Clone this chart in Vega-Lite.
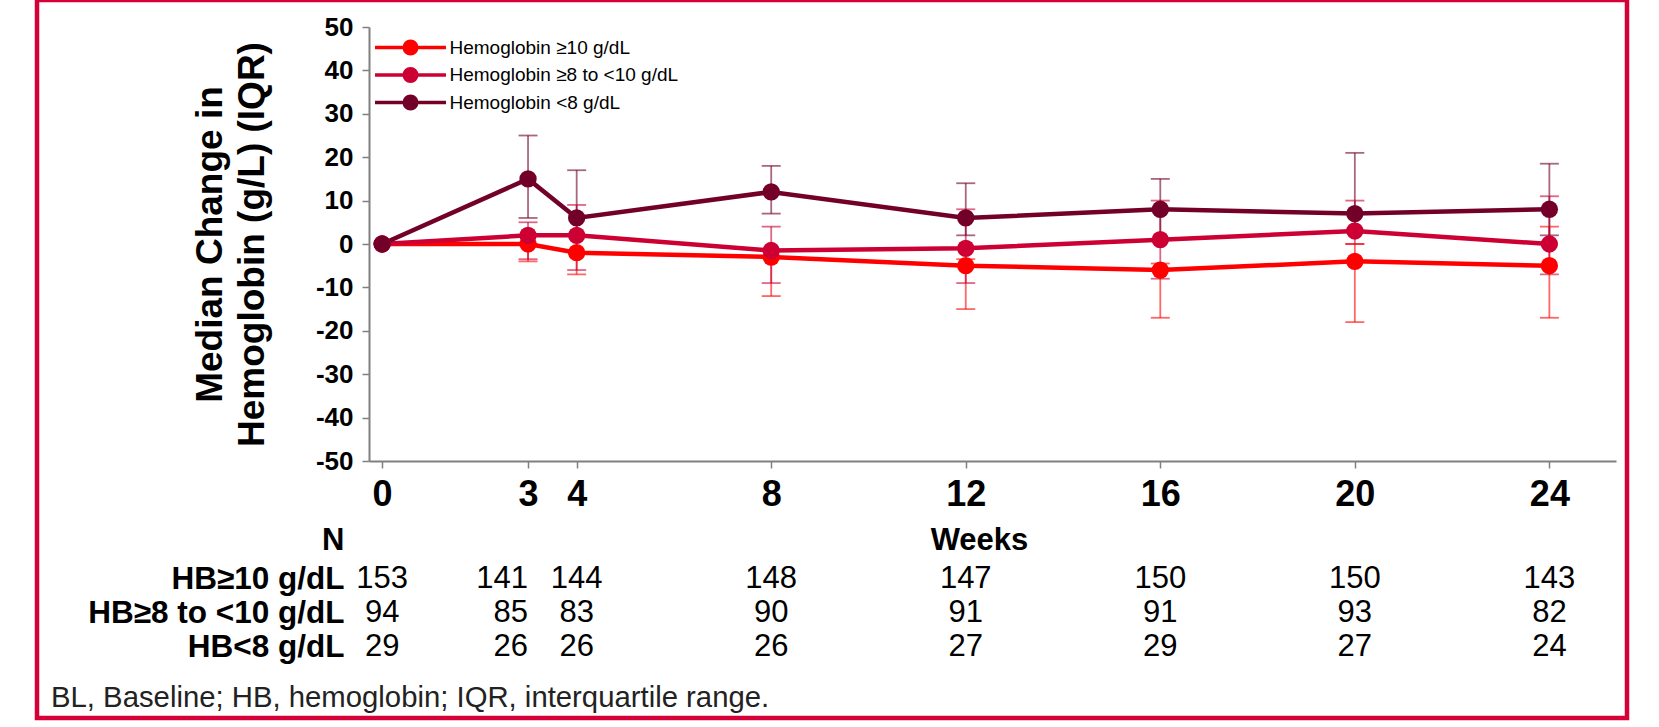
{
  "$schema": "https://vega.github.io/schema/vega-lite/v6.json",
  "width": 1590,
  "height": 718,
  "padding": {"left": 37, "top": 0, "right": 32, "bottom": 9},
  "background": "white",
  "config": {
    "font": "Liberation Sans",
    "view": {"stroke": "#D50038", "strokeWidth": 4.5}
  },
  "title": {
    "text": "BL, Baseline; HB, hemoglobin; IQR, interquartile range.",
    "orient": "bottom",
    "anchor": "start",
    "frame": "group",
    "offset": -20,
    "baseline": "middle",
    "dx": 14,
    "fontSize": 29.3,
    "fontWeight": "normal",
    "color": "#222222"
  },
  "datasets": {
    "series": [
      {"group": "Hemoglobin ≥10 g/dL", "week": 0, "median": 0, "q1": null, "q3": null},
      {"group": "Hemoglobin ≥10 g/dL", "week": 3, "median": 0, "q1": -4, "q3": 0},
      {"group": "Hemoglobin ≥10 g/dL", "week": 4, "median": -2, "q1": -7, "q3": 2},
      {"group": "Hemoglobin ≥10 g/dL", "week": 8, "median": -3, "q1": -12, "q3": -1.5},
      {"group": "Hemoglobin ≥10 g/dL", "week": 12, "median": -5, "q1": -15, "q3": -3.5},
      {"group": "Hemoglobin ≥10 g/dL", "week": 16, "median": -6, "q1": -17, "q3": -4.5},
      {"group": "Hemoglobin ≥10 g/dL", "week": 20, "median": -4, "q1": -18, "q3": 0},
      {"group": "Hemoglobin ≥10 g/dL", "week": 24, "median": -5, "q1": -17, "q3": 4},
      {"group": "Hemoglobin ≥8 to <10 g/dL", "week": 0, "median": 0, "q1": null, "q3": null},
      {"group": "Hemoglobin ≥8 to <10 g/dL", "week": 3, "median": 2, "q1": -3.5, "q3": 5},
      {"group": "Hemoglobin ≥8 to <10 g/dL", "week": 4, "median": 2, "q1": -6, "q3": 9},
      {"group": "Hemoglobin ≥8 to <10 g/dL", "week": 8, "median": -1.5, "q1": -9, "q3": 4},
      {"group": "Hemoglobin ≥8 to <10 g/dL", "week": 12, "median": -1, "q1": -9, "q3": 8},
      {"group": "Hemoglobin ≥8 to <10 g/dL", "week": 16, "median": 1, "q1": -8, "q3": 10},
      {"group": "Hemoglobin ≥8 to <10 g/dL", "week": 20, "median": 3, "q1": 0, "q3": 10},
      {"group": "Hemoglobin ≥8 to <10 g/dL", "week": 24, "median": 0, "q1": -7, "q3": 11},
      {"group": "Hemoglobin <8 g/dL", "week": 0, "median": 0, "q1": null, "q3": null},
      {"group": "Hemoglobin <8 g/dL", "week": 3, "median": 15, "q1": 6, "q3": 25},
      {"group": "Hemoglobin <8 g/dL", "week": 4, "median": 6, "q1": 2, "q3": 17},
      {"group": "Hemoglobin <8 g/dL", "week": 8, "median": 12, "q1": 7, "q3": 18},
      {"group": "Hemoglobin <8 g/dL", "week": 12, "median": 6, "q1": 2, "q3": 14},
      {"group": "Hemoglobin <8 g/dL", "week": 16, "median": 8, "q1": 1, "q3": 15},
      {"group": "Hemoglobin <8 g/dL", "week": 20, "median": 7, "q1": 3, "q3": 21},
      {"group": "Hemoglobin <8 g/dL", "week": 24, "median": 8, "q1": 2, "q3": 18.5}
    ],
    "counts": [
      {"row": "HB≥10 g/dL", "week": 0, "n": 153},
      {"row": "HB≥10 g/dL", "week": 3, "n": 141},
      {"row": "HB≥10 g/dL", "week": 4, "n": 144},
      {"row": "HB≥10 g/dL", "week": 8, "n": 148},
      {"row": "HB≥10 g/dL", "week": 12, "n": 147},
      {"row": "HB≥10 g/dL", "week": 16, "n": 150},
      {"row": "HB≥10 g/dL", "week": 20, "n": 150},
      {"row": "HB≥10 g/dL", "week": 24, "n": 143},
      {"row": "HB≥8 to <10 g/dL", "week": 0, "n": 94},
      {"row": "HB≥8 to <10 g/dL", "week": 3, "n": 85},
      {"row": "HB≥8 to <10 g/dL", "week": 4, "n": 83},
      {"row": "HB≥8 to <10 g/dL", "week": 8, "n": 90},
      {"row": "HB≥8 to <10 g/dL", "week": 12, "n": 91},
      {"row": "HB≥8 to <10 g/dL", "week": 16, "n": 91},
      {"row": "HB≥8 to <10 g/dL", "week": 20, "n": 93},
      {"row": "HB≥8 to <10 g/dL", "week": 24, "n": 82},
      {"row": "HB<8 g/dL", "week": 0, "n": 29},
      {"row": "HB<8 g/dL", "week": 3, "n": 26},
      {"row": "HB<8 g/dL", "week": 4, "n": 26},
      {"row": "HB<8 g/dL", "week": 8, "n": 26},
      {"row": "HB<8 g/dL", "week": 12, "n": 27},
      {"row": "HB<8 g/dL", "week": 16, "n": 29},
      {"row": "HB<8 g/dL", "week": 20, "n": 27},
      {"row": "HB<8 g/dL", "week": 24, "n": 24}
    ]
  },
  "layer": [
    {
      "data": {"name": "series"},
      "layer": [
        {
          "transform": [{"filter": "isValid(datum.q1)"}],
          "mark": {"type": "rule", "strokeWidth": 1.8, "opacity": 0.6},
          "encoding": {
            "x": {"field": "week", "type": "quantitative"},
            "y": {"field": "q1", "type": "quantitative"},
            "y2": {"field": "q3"},
            "color": {"field": "group", "type": "nominal"}
          }
        },
        {
          "transform": [{"filter": "isValid(datum.q1)"}],
          "mark": {"type": "tick", "orient": "horizontal", "size": 19, "thickness": 1.8, "opacity": 0.6},
          "encoding": {
            "x": {"field": "week", "type": "quantitative"},
            "y": {"field": "q1", "type": "quantitative"},
            "color": {"field": "group", "type": "nominal"}
          }
        },
        {
          "transform": [{"filter": "isValid(datum.q3)"}],
          "mark": {"type": "tick", "orient": "horizontal", "size": 19, "thickness": 1.8, "opacity": 0.6},
          "encoding": {
            "x": {"field": "week", "type": "quantitative"},
            "y": {"field": "q3", "type": "quantitative"},
            "color": {"field": "group", "type": "nominal"}
          }
        },
        {
          "mark": {"type": "line", "strokeWidth": 4.5},
          "encoding": {
            "x": {
              "field": "week", "type": "quantitative",
              "scale": {"domain": [-0.27, 25.37], "range": [332, 1579], "nice": false, "zero": false},
              "axis": {
                "values": [0, 3, 4, 8, 12, 16, 20, 24],
                "labelExpr": "toString(datum.value)",
                "offset": -257,
                "grid": false,
                "domainColor": "#808080", "domainWidth": 2,
                "tickColor": "#808080", "tickWidth": 1.5, "tickSize": 7,
                "labelFontSize": 36, "labelFontWeight": "bold", "labelColor": "black",
                "labelBaseline": "middle", "labelPadding": 26,
                "labelFlush": false, "labelOverlap": false,
                "title": "Weeks",
                "titleFontSize": 31, "titleFontWeight": "bold", "titleColor": "black",
                "titleX": 942, "titleY": 79, "titleBaseline": "middle", "titleAlign": "center"
              }
            },
            "y": {
              "field": "median", "type": "quantitative",
              "scale": {"domain": [-50, 50], "range": [461, 27], "nice": false},
              "axis": {
                "values": [-50, -40, -30, -20, -10, 0, 10, 20, 30, 40, 50],
                "labelExpr": "toString(datum.value)",
                "offset": -332,
                "grid": false,
                "domainColor": "#808080", "domainWidth": 2,
                "tickColor": "#808080", "tickWidth": 1.5, "tickSize": 7,
                "labelFontSize": 26, "labelFontWeight": "bold", "labelColor": "black",
                "labelPadding": 9, "labelFlush": false, "labelOverlap": false,
                "title": ["Median Change in", "Hemoglobin (g/L) (IQR)"],
                "titleFontSize": 37, "titleFontWeight": "bold", "titleColor": "black",
                "titleLineHeight": 42, "titleAngle": -90, "titleLimit": 2000,
                "titleX": -159, "titleY": 244, "titleBaseline": "middle", "titleAlign": "center"
              }
            },
            "color": {
              "field": "group", "type": "nominal",
              "scale": {"domain": ["Hemoglobin ≥10 g/dL", "Hemoglobin ≥8 to <10 g/dL", "Hemoglobin <8 g/dL"], "range": ["#FF0000", "#CC0033", "#720029"]},
              "legend": {
                "orient": "none", "legendX": 364, "legendY": 38,
                "title": null, "padding": 0,
                "symbolType": "M-5.68,0L5.68,0M1,0A1,1,0,1,1,-1,0A1,1,0,1,1,1,0Z",
                "symbolSize": 156, "symbolStrokeWidth": 3.5,
                "labelFontSize": 19, "labelColor": "black", "labelOffset": 29.5, "labelLimit": 400,
                "rowPadding": 0.5,
                "encode": {"symbols": {"update": {"fill": {"scale": "color", "field": "value"}, "stroke": {"scale": "color", "field": "value"}, "opacity": {"value": 1}}}}
              }
            }
          }
        },
        {
          "mark": {"type": "point", "filled": true, "size": 300, "opacity": 1},
          "encoding": {
            "x": {"field": "week", "type": "quantitative"},
            "y": {"field": "median", "type": "quantitative"},
            "color": {"field": "group", "type": "nominal"}
          }
        }
      ]
    },
    {
      "data": {"name": "counts"},
      "layer": [
        {
          "transform": [{"filter": "datum.week !== 3"}],
          "mark": {"type": "text", "fontSize": 31, "baseline": "middle", "align": "center", "color": "black"},
          "encoding": {
            "x": {"field": "week", "type": "quantitative"},
            "y": {
              "field": "row", "type": "ordinal",
              "scale": {"type": "point", "domain": ["HB≥10 g/dL", "HB≥8 to <10 g/dL", "HB<8 g/dL"], "range": [579, 647], "padding": 0},
              "axis": {
                "orient": "left", "offset": -307,
                "domain": false, "ticks": false, "tickSize": 0, "grid": false,
                "labelPadding": 0, "labelFontSize": 31.5, "labelFontWeight": "bold", "labelColor": "black",
                "labelBaseline": "middle", "labelAlign": "right", "labelLimit": 500,
                "title": "N", "titleAngle": 0, "titleX": 0, "titleY": 540,
                "titleAlign": "right", "titleBaseline": "middle",
                "titleFontSize": 31, "titleFontWeight": "bold", "titleColor": "black"
              }
            },
            "text": {"field": "n", "type": "quantitative"}
          }
        },
        {
          "transform": [{"filter": "datum.week === 3"}],
          "mark": {"type": "text", "fontSize": 31, "baseline": "middle", "align": "right", "color": "black"},
          "encoding": {
            "x": {"field": "week", "type": "quantitative"},
            "y": {"field": "row", "type": "ordinal"},
            "text": {"field": "n", "type": "quantitative"}
          }
        }
      ]
    }
  ],
  "resolve": {"scale": {"y": "independent"}, "axis": {"y": "independent"}}
}
